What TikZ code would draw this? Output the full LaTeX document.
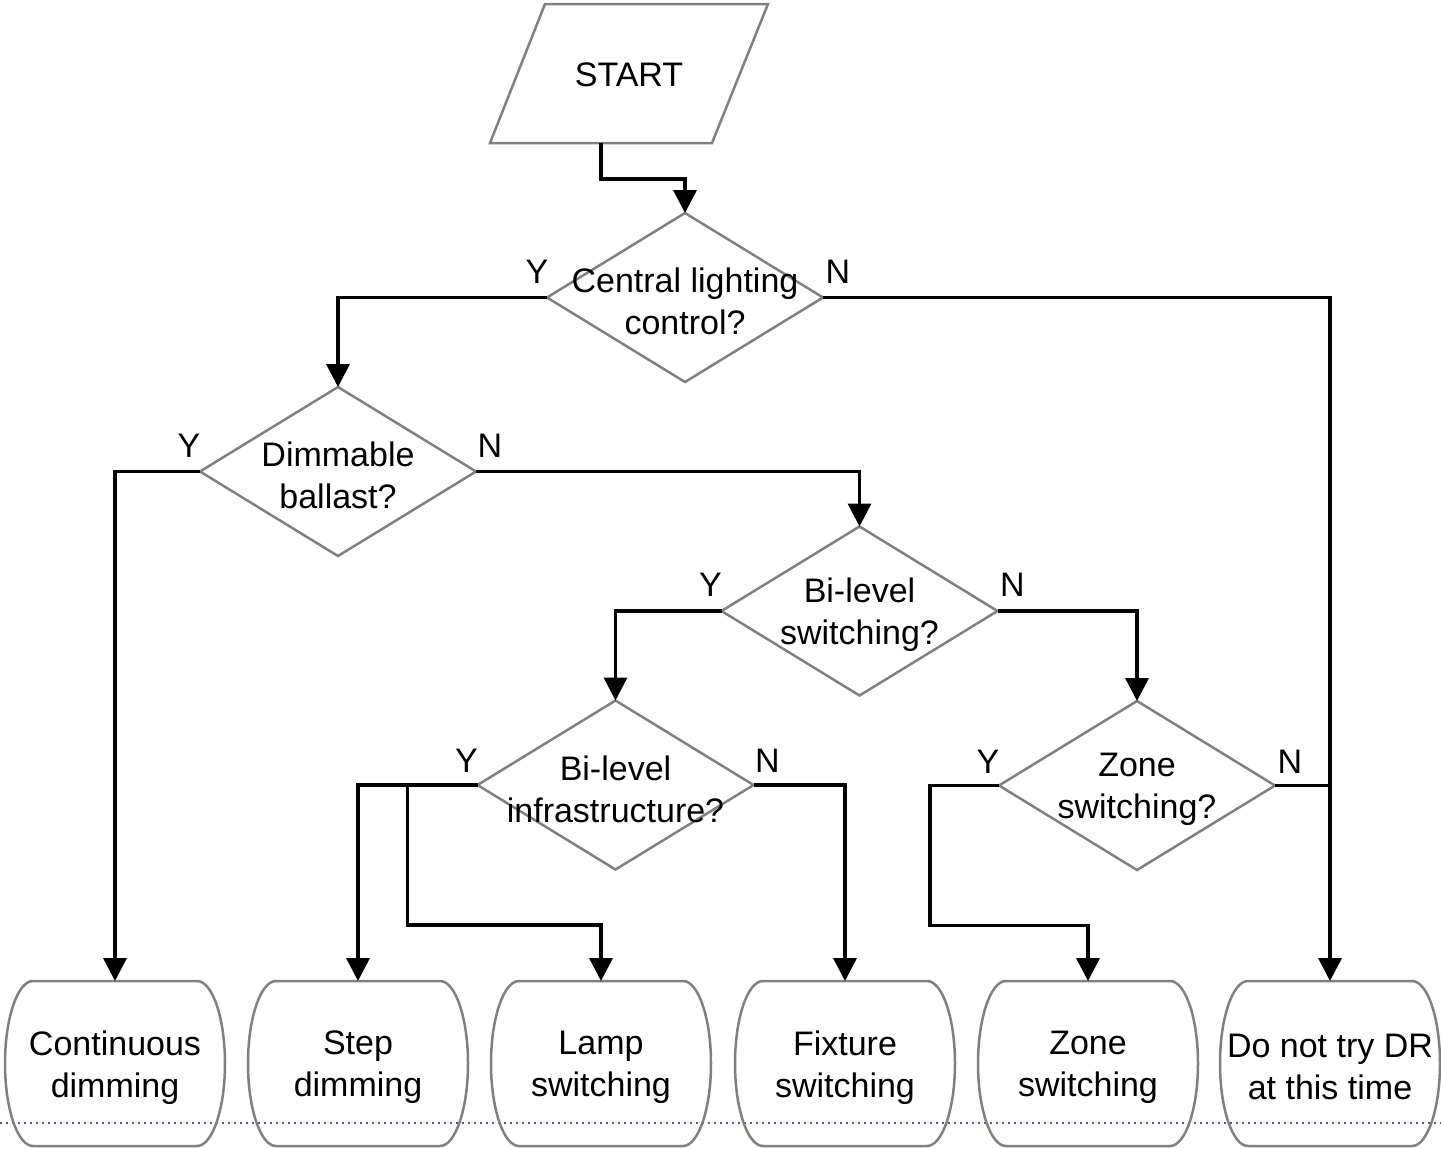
\documentclass[tikz,border=0pt]{standalone}
\usepackage{fontspec}
\setmainfont{Liberation Sans}
\usetikzlibrary{shapes.geometric,arrows.meta,calc}

\definecolor{outlinegray}{RGB}{128,128,128}
\definecolor{dotblue}{RGB}{70,95,130}

\begin{document}
\begin{tikzpicture}[x=1pt,y=-1pt,
  every node/.style={font=\fontsize{34}{42}\selectfont},
  shapeline/.style={draw=outlinegray,line width=2.5pt},
  decision/.style={diamond,shapeline,minimum width=276pt,minimum height=169pt,
    inner sep=0pt,outer sep=0pt},
  endbox/.style={rectangle,minimum width=220pt,minimum height=165pt,
    inner sep=0pt,outer sep=0pt},
  qtext/.style={align=center,inner sep=0pt,yshift=-4pt},
  conn/.style={draw=black,line width=3.5pt,-{Triangle[length=23pt,width=23pt]}},
  plainconn/.style={draw=black,line width=3.5pt},
  yn/.style={inner sep=0pt}]

\useasboundingbox (0,0) rectangle (1441,1149);

% dotted guide line along the bottom
\draw[dotblue,line width=1.5pt,dash pattern=on 1.5pt off 4.5pt] (0,1123) -- (1441,1123);

% start (parallelogram)
\node[rectangle,minimum width=278pt,minimum height=139pt,inner sep=0pt,outer sep=0pt]
  (start) at (629,73.5) {};
\node[qtext,yshift=3pt] (starttext) at (start) {START};
\draw[shapeline] (start.south west) -- ++(222,0) -- (start.north east) -- ++(-223,0) -- cycle;

% decisions
\node[decision] (d1) at (685,297.5) {};
\node[qtext] (d1text) at (d1) {Central lighting\\control?};
\node[decision] (d2) at (338,471.5) {};
\node[qtext] (d2text) at (d2) {Dimmable\\ballast?};
\node[decision] (d3) at (859.5,611) {};
\node[qtext] (d3text) at (d3) {Bi-level\\switching?};
\node[decision] (d4) at (615.5,785) {};
\node[qtext] (d4text) at (d4) {Bi-level\\infrastructure?};
\node[decision] (d5) at (1137,785.5) {};
\node[qtext] (d5text) at (d5) {Zone\\switching?};

% outcomes
\node[endbox] (t1) at (115,1063.5)  {};
\node[endbox] (t2) at (358,1063.5)  {};
\node[endbox] (t3) at (601,1063.5)  {};
\node[endbox] (t4) at (845,1063.5)  {};
\node[endbox] (t5) at (1088,1063.5) {};
\node[endbox] (t6) at (1330,1063.5) {};
\node[qtext] (t1text) at (t1) {Continuous\\dimming};
\node[qtext] (t2text) at (t2) {Step\\dimming};
\node[qtext] (t3text) at (t3) {Lamp\\switching};
\node[qtext] (t4text) at (t4) {Fixture\\switching};
\node[qtext] (t5text) at (t5) {Zone\\switching};
\node[qtext,yshift=1pt] (t6text) at (t6) {Do not try DR\\at this time};

% barrel outlines of the outcome boxes
\foreach \n in {t1,t2,t3,t4,t5,t6}{
  \draw[shapeline] ([xshift=-82pt]\n.north) -- ([xshift=82pt]\n.north)
    .. controls +(15.5,0) and +(0,-45) .. (\n.east)
    .. controls +(0,45) and +(15.5,0) .. ([xshift=82pt]\n.south)
    -- ([xshift=-82pt]\n.south)
    .. controls +(-15.5,0) and +(0,45) .. (\n.west)
    .. controls +(0,-45) and +(-15.5,0) .. ([xshift=-82pt]\n.north) -- cycle;
}

% connectors
\draw[conn] ([xshift=-28pt]start.south) -- ++(0,36) -| (d1.north);
\draw[conn] (d1.west) -| (d2.north);
\draw[conn] (d1.east) -| (t6.north);
\draw[conn] (d2.west) -| (t1.north);
\draw[conn] (d2.east) -| (d3.north);
\draw[conn] (d3.west) -| (d4.north);
\draw[conn] (d3.east) -| (d5.north);
\draw[conn] (d4.west) -| (t2.north);
\coordinate (lampfork) at ([xshift=-70pt]d4.west);
\draw[conn] (lampfork) -- ++(0,140) -| (t3.north);
\draw[conn] (d4.east) -| (t4.north);
\draw[conn] (d5.west) -- ++(-69,0) -- ++(0,140) -| (t5.north);
\coordinate (zonejoin) at (d5.east -| t6.north);
\draw[plainconn] (d5.east) -- (zonejoin);

% branch labels
\node[yn] (y1) at ([shift={(-10,-26)}]d1.west) {Y};
\node[yn] (n1) at ([shift={(15,-26)}]d1.east) {N};
\node[yn] (y2) at ([shift={(-11,-26)}]d2.west) {Y};
\node[yn] (n2) at ([shift={(14,-26)}]d2.east) {N};
\node[yn] (y3) at ([shift={(-11,-26)}]d3.west) {Y};
\node[yn] (n3) at ([shift={(15,-26)}]d3.east) {N};
\node[yn] (y4) at ([shift={(-11,-24)}]d4.west) {Y};
\node[yn] (n4) at ([shift={(14,-24)}]d4.east) {N};
\node[yn] (y5) at ([shift={(-11,-24)}]d5.west) {Y};
\node[yn] (n5) at ([shift={(15,-24)}]d5.east) {N};
\end{tikzpicture}
\end{document}
